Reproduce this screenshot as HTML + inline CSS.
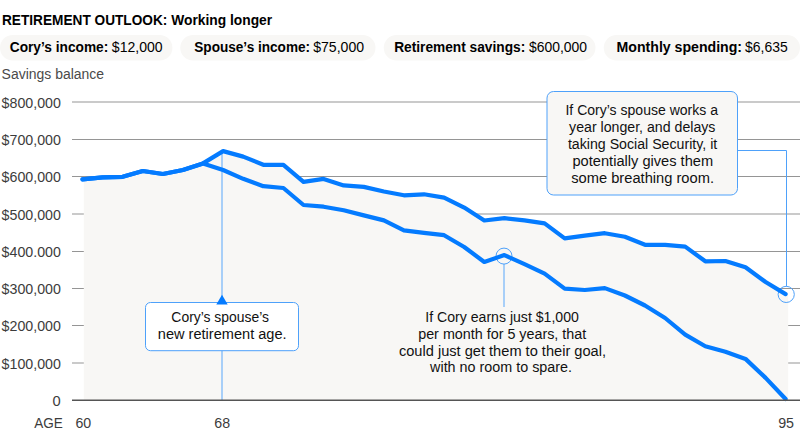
<!DOCTYPE html>
<html><head><meta charset="utf-8"><title>Retirement outlook: Working longer</title>
<style>
html,body{margin:0;padding:0;background:#fff;}
body{width:800px;height:435px;overflow:hidden;position:relative;font-family:"Liberation Sans",sans-serif;color:#000;}
svg{position:absolute;left:0;top:0;display:block;}
text{font-family:"Liberation Sans",sans-serif;}
</style></head><body>
<svg width="800" height="435" viewBox="0 0 800 435">
<rect x="0" y="35" width="172.4" height="25.6" rx="12.8" fill="#f8f7f5"/>
<rect x="180.25" y="35" width="195.25" height="25.6" rx="12.8" fill="#f8f7f5"/>
<rect x="383.75" y="35" width="211.75" height="25.6" rx="12.8" fill="#f8f7f5"/>
<rect x="603.75" y="35" width="196.25" height="25.6" rx="12.8" fill="#f8f7f5"/>
<g stroke="#959595" stroke-width="1">
<line x1="72" x2="800" y1="102.0" y2="102.0"/>
<line x1="72" x2="800" y1="139.5" y2="139.5"/>
<line x1="72" x2="800" y1="176.5" y2="176.5"/>
<line x1="72" x2="800" y1="214.0" y2="214.0"/>
<line x1="72" x2="800" y1="251.5" y2="251.5"/>
<line x1="72" x2="800" y1="288.5" y2="288.5"/>
<line x1="72" x2="800" y1="325.5" y2="325.5"/>
<line x1="72" x2="800" y1="363.0" y2="363.0"/>
</g>
<polygon fill="#f8f7f5" points="83.8,400.5 83.8,179.4 82.5,179.4 102.6,177.4 122.7,176.8 142.8,171.0 162.9,174.0 182.9,170.0 203.0,163.4 223.1,151.1 243.2,156.6 263.3,164.8 283.4,164.8 303.5,181.8 323.6,178.9 343.7,185.4 363.8,186.9 383.9,191.5 403.9,195.3 424.0,194.3 444.1,197.6 464.2,207.6 484.3,220.5 504.4,218.2 524.5,220.4 544.6,223.4 564.7,238.4 584.8,235.6 604.8,233.2 624.9,236.8 645.0,244.8 665.1,244.8 685.2,246.6 705.3,261.3 725.4,261.0 745.5,267.3 765.6,282.0 785.6,294.1 788.2,294.1 788.2,400.5"/>
<line x1="222" x2="222" y1="152" y2="400" stroke="#a8cff8" stroke-width="2"/>
<line x1="504" x2="504" y1="264" y2="307" stroke="#a8cff8" stroke-width="2"/>
<polyline points="737,150.5 786.5,150.5 786.5,286.4" fill="none" stroke="#4ea1fa" stroke-width="1" stroke-linejoin="round"/>
<circle cx="504" cy="256.1" r="8" fill="none" stroke="#4ea1fa" stroke-width="1"/>
<circle cx="786.2" cy="294.4" r="8.1" fill="none" stroke="#4ea1fa" stroke-width="1"/>
<polyline points="82.5,179.4 102.6,177.4 122.7,176.8 142.8,171.0 162.9,174.0 182.9,170.0 203.0,163.4 223.1,170.0 243.2,178.8 263.3,186.2 283.4,188.0 303.5,205.0 323.6,206.7 343.7,210.3 363.8,215.4 383.9,220.4 403.9,230.4 424.0,232.8 444.1,235.2 464.2,247.0 484.3,262.0 504.4,255.1 524.5,264.1 544.6,273.6 564.7,288.6 584.8,290.0 604.8,288.1 624.9,295.5 645.0,305.5 665.1,318.0 685.2,334.6 705.3,346.3 725.4,351.8 745.5,358.9 765.6,377.9 785.6,399.0" fill="none" stroke="#047bff" stroke-width="4.2" stroke-linecap="round" stroke-linejoin="round"/>
<polyline points="82.5,179.4 102.6,177.4 122.7,176.8 142.8,171.0 162.9,174.0 182.9,170.0 203.0,163.4 223.1,151.1 243.2,156.6 263.3,164.8 283.4,164.8 303.5,181.8 323.6,178.9 343.7,185.4 363.8,186.9 383.9,191.5 403.9,195.3 424.0,194.3 444.1,197.6 464.2,207.6 484.3,220.5 504.4,218.2 524.5,220.4 544.6,223.4 564.7,238.4 584.8,235.6 604.8,233.2 624.9,236.8 645.0,244.8 665.1,244.8 685.2,246.6 705.3,261.3 725.4,261.0 745.5,267.3 765.6,282.0 785.6,294.1" fill="none" stroke="#047bff" stroke-width="4.2" stroke-linecap="round" stroke-linejoin="round"/>
<line x1="72" x2="800" y1="400.3" y2="400.3" stroke="#555" stroke-width="1.5"/>
<rect x="547" y="91.5" width="190.5" height="103.5" rx="6.5" fill="#f8f7f5" stroke="#4ea1fa" stroke-width="1"/>
<rect x="145.5" y="302.5" width="153" height="48.2" rx="5" fill="#ffffff" stroke="#4ea1fa" stroke-width="1"/>
<polygon points="216.3,304.5 227.7,304.5 222,294.8" fill="#047bff"/>
<g font-size="14">
<text x="2.0" y="24.9" textLength="165.32" lengthAdjust="spacingAndGlyphs" fill="#000" font-weight="bold">RETIREMENT OUTLOOK:</text>
<text x="171.25" y="24.9" textLength="100.91" lengthAdjust="spacingAndGlyphs" fill="#000" font-weight="bold">Working longer</text>
<text x="9.75" y="52.3" textLength="98.51" lengthAdjust="spacingAndGlyphs" fill="#000" font-weight="bold">Cory’s income:</text>
<text x="111.85" y="52.3" textLength="50.77" lengthAdjust="spacingAndGlyphs" fill="#000">$12,000</text>
<text x="194.29" y="52.3" textLength="115.78" lengthAdjust="spacingAndGlyphs" fill="#000" font-weight="bold">Spouse’s income:</text>
<text x="313.21" y="52.3" textLength="50.93" lengthAdjust="spacingAndGlyphs" fill="#000">$75,000</text>
<text x="394.15" y="52.3" textLength="131.09" lengthAdjust="spacingAndGlyphs" fill="#000" font-weight="bold">Retirement savings:</text>
<text x="528.97" y="52.3" textLength="58.06" lengthAdjust="spacingAndGlyphs" fill="#000">$600,000</text>
<text x="616.56" y="52.3" textLength="125.54" lengthAdjust="spacingAndGlyphs" fill="#000" font-weight="bold">Monthly spending:</text>
<text x="745.05" y="52.3" textLength="42.65" lengthAdjust="spacingAndGlyphs" fill="#000">$6,635</text>
<text x="1.58" y="78.5" textLength="102.47" lengthAdjust="spacingAndGlyphs" fill="#4a4a4a">Savings balance</text>
<text x="1.64" y="107.7" textLength="59.3" lengthAdjust="spacingAndGlyphs" fill="#3c3c3c">$800,000</text>
<text x="1.64" y="145.2" textLength="59.3" lengthAdjust="spacingAndGlyphs" fill="#3c3c3c">$700,000</text>
<text x="1.64" y="182.2" textLength="59.3" lengthAdjust="spacingAndGlyphs" fill="#3c3c3c">$600,000</text>
<text x="1.64" y="219.7" textLength="59.3" lengthAdjust="spacingAndGlyphs" fill="#3c3c3c">$500,000</text>
<text x="1.64" y="257.2" textLength="59.3" lengthAdjust="spacingAndGlyphs" fill="#3c3c3c">$400.000</text>
<text x="1.64" y="294.2" textLength="59.3" lengthAdjust="spacingAndGlyphs" fill="#3c3c3c">$300,000</text>
<text x="1.64" y="331.2" textLength="59.3" lengthAdjust="spacingAndGlyphs" fill="#3c3c3c">$200,000</text>
<text x="1.64" y="368.7" textLength="59.3" lengthAdjust="spacingAndGlyphs" fill="#3c3c3c">$100,000</text>
<text x="52.56" y="406.0" textLength="8.19" lengthAdjust="spacingAndGlyphs" fill="#3c3c3c">0</text>
<text x="34.18" y="428" textLength="28.62" lengthAdjust="spacingAndGlyphs" fill="#3c3c3c">AGE</text>
<text x="75.42" y="428" textLength="15.78" lengthAdjust="spacingAndGlyphs" fill="#3c3c3c">60</text>
<text x="214.37" y="428" textLength="15.84" lengthAdjust="spacingAndGlyphs" fill="#3c3c3c">68</text>
<text x="778.2" y="428" textLength="15.87" lengthAdjust="spacingAndGlyphs" fill="#3c3c3c">95</text>
<text x="565.44" y="115.1" textLength="152.58" lengthAdjust="spacingAndGlyphs" fill="#111">If Cory’s spouse works a</text>
<text x="569.07" y="132.1" textLength="146.39" lengthAdjust="spacingAndGlyphs" fill="#111">year longer, and delays</text>
<text x="567.93" y="149.1" textLength="149.31" lengthAdjust="spacingAndGlyphs" fill="#111">taking Social Security, it</text>
<text x="572.48" y="166.1" textLength="140.67" lengthAdjust="spacingAndGlyphs" fill="#111">potentially gives them</text>
<text x="571.18" y="183.0" textLength="142.84" lengthAdjust="spacingAndGlyphs" fill="#111">some breathing room.</text>
<text x="171.37" y="322.2" textLength="97.6" lengthAdjust="spacingAndGlyphs" fill="#111">Cory’s spouse’s</text>
<text x="157.79" y="338.8" textLength="128.84" lengthAdjust="spacingAndGlyphs" fill="#111">new retirement age.</text>
<text x="425.28" y="321.7" textLength="153.59" lengthAdjust="spacingAndGlyphs" fill="#111">If Cory earns just $1,000</text>
<text x="418.2" y="338.6" textLength="168.05" lengthAdjust="spacingAndGlyphs" fill="#111">per month for 5 years, that</text>
<text x="398.92" y="355.5" textLength="207.12" lengthAdjust="spacingAndGlyphs" fill="#111">could just get them to their goal,</text>
<text x="430.08" y="372.4" textLength="141.96" lengthAdjust="spacingAndGlyphs" fill="#111">with no room to spare.</text>
</g>
</svg>
</body></html>
